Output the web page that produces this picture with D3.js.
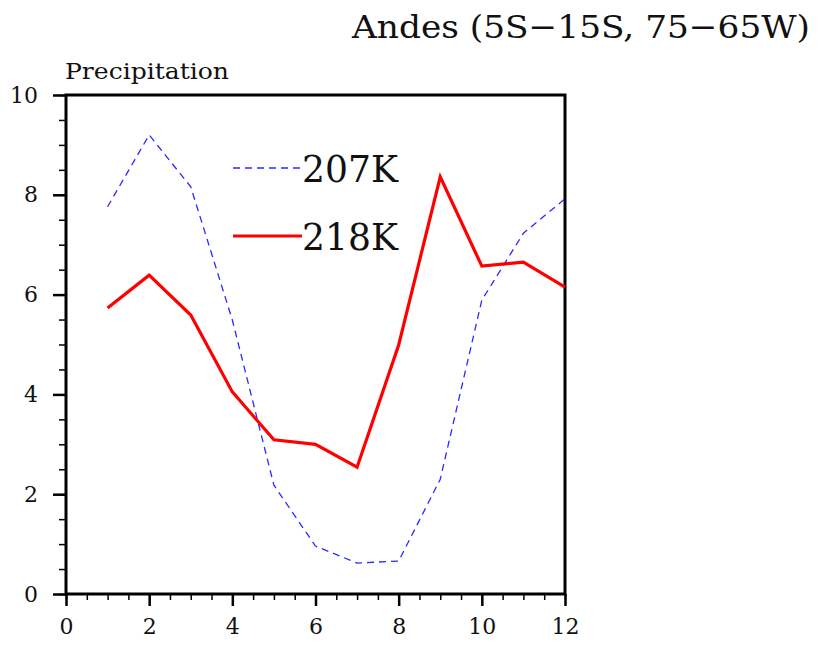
<!DOCTYPE html>
<html>
<head>
<meta charset="utf-8">
<script src="https://cdn.jsdelivr.net/npm/d3@7"></script>
<style>
  body { margin: 0; background: #fff; }
  text { font-family: "DejaVu Serif", serif; fill: #111; }
</style>
</head>
<body>
<div id="graph"></div>
<script>
// months and the two precipitation series
const months = [1, 2, 3, 4, 5, 6, 7, 8, 9, 10, 11, 12];
const k207 = [7.76, 9.2, 8.16, 5.49, 2.18, 0.96, 0.62, 0.66, 2.3, 5.89, 7.23, 7.92];
const k218 = [5.73, 6.39, 5.59, 4.05, 3.09, 3.0, 2.54, 4.99, 8.36, 6.57, 6.65, 6.15];
const xTicks = [0, 2, 4, 6, 8, 10, 12];
const yTicks = [0, 2, 4, 6, 8, 10];
const seriesNames = ["207K", "218K"];

const svg = d3.select("#graph")
    .append("svg")
    .attr("width", 819)
    .attr("height", 648);

const x = d3.scaleLinear().domain([0, 12]).range([66, 565]);
const y = d3.scaleLinear().domain([0, 10]).range([594, 95]);

// minor ticks
svg.append("g").attr("transform", "translate(0,594)")
    .call(d3.axisBottom(x).tickValues(d3.range(0, 12.01, 0.5)).tickSize(6).tickFormat(""))
    .call(g => g.select(".domain").remove())
    .call(g => g.selectAll("line").attr("stroke-width", 1.5));
svg.append("g").attr("transform", "translate(66,0)")
    .call(d3.axisLeft(y).tickValues(d3.range(0, 10.01, 0.5)).tickSize(7).tickFormat(""))
    .call(g => g.select(".domain").remove())
    .call(g => g.selectAll("line").attr("stroke-width", 1.5));

// major ticks with labels
svg.append("g").attr("transform", "translate(0,594)")
    .call(d3.axisBottom(x).tickValues(xTicks).tickSize(12).tickPadding(12))
    .call(g => g.select(".domain").remove())
    .call(g => g.selectAll("line").attr("stroke-width", 2.5))
    .call(g => g.selectAll("text").attr("font-size", 22).attr("font-family", "DejaVu Serif").attr("fill", "#111"));
svg.append("g").attr("transform", "translate(66,0)")
    .call(d3.axisLeft(y).tickValues(yTicks).tickSize(13).tickPadding(15))
    .call(g => g.select(".domain").remove())
    .call(g => g.selectAll("line").attr("stroke-width", 2.5))
    .call(g => g.selectAll("text").attr("font-size", 22).attr("font-family", "DejaVu Serif").attr("fill", "#111"));

// frame
svg.append("rect")
    .attr("x", x(0)).attr("y", y(10))
    .attr("width", x(12) - x(0)).attr("height", y(0) - y(10))
    .attr("fill", "none").attr("stroke", "#000").attr("stroke-width", 3);

const line = d3.line()
    .x((d, i) => x(months[i]))
    .y(d => y(d));

svg.append("path")
    .datum(k207)
    .attr("fill", "none")
    .attr("stroke", "#2a2aff")
    .attr("stroke-width", 1.3)
    .attr("stroke-dasharray", "7,5")
    .attr("d", line);

svg.append("path")
    .datum(k218)
    .attr("fill", "none")
    .attr("stroke", "#ff0000")
    .attr("stroke-width", 3.2)
    .attr("d", line);

// legend
const legend = svg.append("g");
legend.append("line")
    .attr("x1", 233).attr("x2", 302).attr("y1", 168).attr("y2", 168)
    .attr("stroke", "#2a2aff").attr("stroke-width", 1.3).attr("stroke-dasharray", "7,5");
legend.append("line")
    .attr("x1", 233).attr("x2", 302).attr("y1", 236).attr("y2", 236)
    .attr("stroke", "#ff0000").attr("stroke-width", 3.2);
legend.selectAll("text.lab")
    .data(seriesNames)
    .join("text")
    .attr("class", "lab")
    .attr("x", 302)
    .attr("y", (d, i) => 182 + i * 68)
    .attr("font-size", 37)
    .attr("textLength", 96)
    .attr("lengthAdjust", "spacingAndGlyphs")
    .text(d => d);

// titles
svg.append("text")
    .attr("x", 810).attr("y", 38)
    .attr("text-anchor", "end")
    .attr("font-size", 32)
    .attr("textLength", 458)
    .attr("lengthAdjust", "spacingAndGlyphs")
    .text("Andes (5S\u221215S, 75\u221265W)");

svg.append("text")
    .attr("x", 65).attr("y", 79)
    .attr("font-size", 22)
    .attr("textLength", 164)
    .attr("lengthAdjust", "spacingAndGlyphs")
    .text("Precipitation");
</script>
</body>
</html>
